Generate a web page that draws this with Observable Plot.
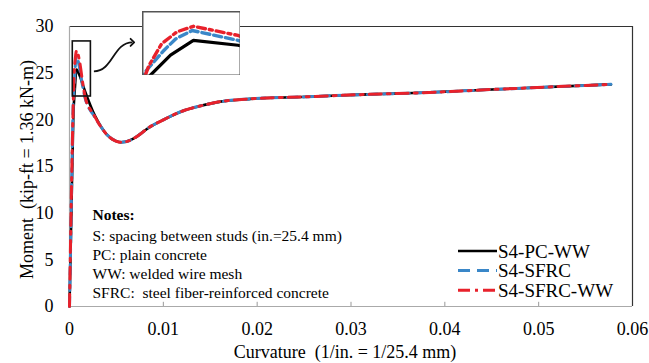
<!DOCTYPE html>
<html>
<head>
<meta charset="utf-8">
<script src="https://cdn.jsdelivr.net/npm/d3@7"></script>
<script src="https://cdn.jsdelivr.net/npm/@observablehq/plot@0.6"></script>
<style>
  html, body { margin: 0; padding: 0; background: white; }
  #wrap { position: relative; width: 649px; height: 363px; }
  #wrap svg, #wrap svg text { font-family: "Liberation Serif", "Times New Roman", serif !important; }
  #inset { position: absolute; left: 142px; top: 11px; }
</style>
</head>
<body>
<div id="wrap"></div>
<script>
// ---- data ----
const seriesNames = ["S4-PC-WW", "S4-SFRC", "S4-SFRC-WW"];

const xPCWW = [0, 0.0002, 0.00041, 0.00057, 0.00075, 0.0011, 0.0015, 0.0019, 0.0025, 0.003, 0.004, 0.005, 0.0055, 0.006, 0.007, 0.0085, 0.01, 0.0122, 0.014, 0.0158, 0.0193, 0.0247, 0.031, 0.0375, 0.045, 0.0577];
const yPCWW = [0, 10, 20.4, 23.3, 25.4, 24.7, 23.5, 22.4, 20.9, 19.9, 18.4, 17.7, 17.6, 17.65, 18.1, 19.2, 20.0, 21.0, 21.5, 21.9, 22.25, 22.45, 22.7, 22.9, 23.25, 23.8];

const xSFRC = [0, 0.0002, 0.00037, 0.00052, 0.00061, 0.00074, 0.0011, 0.0014, 0.0017, 0.0021, 0.0025, 0.003, 0.004, 0.005, 0.0055, 0.006, 0.007, 0.0085, 0.01, 0.0122, 0.014, 0.0158, 0.0193, 0.0247, 0.031, 0.0375, 0.045, 0.0577];
const ySFRC = [0, 11, 20.9, 24.0, 25.6, 26.8, 25.4, 23.6, 22.2, 21.2, 20.6, 19.8, 18.4, 17.7, 17.6, 17.65, 18.1, 19.2, 20.0, 21.0, 21.5, 21.9, 22.25, 22.45, 22.7, 22.9, 23.25, 23.8];

const xSFRCWW = [0, 0.0002, 0.0004, 0.0005, 0.00062, 0.00075, 0.0011, 0.0014, 0.0017, 0.0021, 0.0025, 0.003, 0.004, 0.005, 0.0055, 0.006, 0.007, 0.0085, 0.01, 0.0122, 0.014, 0.0158, 0.0193, 0.0247, 0.031, 0.0375, 0.045, 0.0577];
const ySFRCWW = [0, 12, 21.8, 24.9, 26.6, 27.4, 26.1, 24.0, 22.3, 21.3, 20.7, 19.8, 18.4, 17.7, 17.6, 17.65, 18.1, 19.2, 20.0, 21.0, 21.5, 21.9, 22.25, 22.45, 22.7, 22.9, 23.25, 23.8];

const xTicks = [0, 0.01, 0.02, 0.03, 0.04, 0.05, 0.06];
const xTickLabels = ["0", "0.01", "0.02", "0.03", "0.04", "0.05", "0.06"];
const yTicks = [0, 5, 10, 15, 20, 25, 30];
const yTickLabels = ["0", "5", "10", "15", "20", "25", "30"];
const xMinorTicks = [0.01, 0.02, 0.03, 0.04, 0.05];

const xLabel = "Curvature  (1/in. = 1/25.4 mm)";
const yLabel = "Moment  (kip-ft = 1.36 kN-m)";
const notesTitle = "Notes:";
const notesLines = [
  "S: spacing between studs (in.=25.4 mm)",
  "PC: plain concrete",
  "WW: welded wire mesh",
  "SFRC:  steel fiber-reinforced concrete"
];
// zoom window on the peak (data units) and the pointer from it to the inset
const zoomBox = [{x1: 0.00035, x2: 0.00228, y1: 22.5, y2: 28.4}];
const zoomArrow = [{x1: 0.0026, y1: 25.2, x2: 0.0067, y2: 28.3}];
const insetX = [0.00035, 0.00112];
const insetY = [20.4, 29.5];

// ---- build table ----
const rows = (xs, ys, name) => xs.map((x, i) => ({x, y: ys[i], s: name}));
const dPC = rows(xPCWW, yPCWW, seriesNames[0]);
const dSF = rows(xSFRC, ySFRC, seriesNames[1]);
const dSW = rows(xSFRCWW, ySFRCWW, seriesNames[2]);

const colors = {black: "#000000", blue: "#3a87c8", red: "#e8212b"};
const FONT = "Liberation Serif";

const main = Plot.plot({
  width: 649, height: 363,
  marginLeft: 69, marginRight: 17, marginTop: 26, marginBottom: 57,
  style: {fontFamily: FONT, fontSize: "18px", background: "white", color: "black"},
  x: {domain: [0, 0.06], ticks: xTicks, tickFormat: (d, i) => xTickLabels[i], tickSize: 0, tickPadding: 16, label: null},
  y: {domain: [0, 30], ticks: yTicks, tickFormat: (d, i) => yTickLabels[i], tickSize: 0, tickPadding: 16, label: null},
  marks: [
    Plot.ruleY([30], {stroke: "#333", strokeWidth: 1.2}),
    Plot.ruleX([0.06], {stroke: "#333", strokeWidth: 1.2}),
    Plot.ruleY([0], {stroke: "#aaa", strokeWidth: 1.2}),
    Plot.ruleX([0], {stroke: "#aaa", strokeWidth: 1.2}),
    Plot.ruleX(xMinorTicks, {y1: 0, y2: 0.45, stroke: "#999", strokeWidth: 1}),
    Plot.line(dPC, {x: "x", y: "y", stroke: colors.black, strokeWidth: 2.6, curve: "monotone-x"}),
    Plot.line(dSF, {x: "x", y: "y", stroke: colors.blue, strokeWidth: 3, strokeDasharray: "10,6", curve: "monotone-x"}),
    Plot.line(dSW, {x: "x", y: "y", stroke: colors.red, strokeWidth: 3, strokeDasharray: "12,6,3,6", curve: "monotone-x"}),
    Plot.rect(zoomBox, {x1: "x1", x2: "x2", y1: "y1", y2: "y2", fill: "none", stroke: "#111", strokeWidth: 1.6}),
    Plot.link(zoomArrow, {x1: "x1", y1: "y1", x2: "x2", y2: "y2", curve: "bump-x", stroke: "#111", strokeWidth: 1.8, markerEnd: "arrow"}),
    Plot.text([yLabel], {frameAnchor: "left", rotate: -90, dx: -42, dy: 3, fontSize: 18, fontFamily: FONT, textAnchor: "middle", lineAnchor: "middle", fill: "black"}),
    Plot.text([xLabel], {frameAnchor: "bottom", dx: -6, dy: 46, fontSize: 18, fontFamily: FONT, textAnchor: "middle", lineAnchor: "middle", fill: "black"}),
    Plot.text([notesTitle], {frameAnchor: "bottom-left", dx: 23, dy: -91, fontSize: 15.5, fontFamily: FONT, fontWeight: "bold", textAnchor: "start", lineAnchor: "middle", fill: "black"}),
    Plot.text([notesLines.join("\n")], {frameAnchor: "bottom-left", dx: 23, dy: -43, fontSize: 15.5, fontFamily: FONT, lineHeight: 1.21, textAnchor: "start", lineAnchor: "middle", fill: "black"})
  ]
});
document.getElementById("wrap").appendChild(main);

// legend (inside the plot area, lower right)
const svg = d3.select(main);
const leg = svg.append("g").attr("font-family", FONT).attr("font-size", 19).attr("text-anchor", "start");
const legendItems = [
  {name: seriesNames[0], stroke: colors.black, dash: null, w: 2.6},
  {name: seriesNames[1], stroke: colors.blue, dash: "12,7", w: 3},
  {name: seriesNames[2], stroke: colors.red, dash: "12,5,3,5", w: 3}
];
legendItems.forEach((it, i) => {
  const y = 251 + i * 19.6;
  const l = leg.append("line").attr("x1", 458).attr("x2", 497).attr("y1", y).attr("y2", y)
    .attr("stroke", it.stroke).attr("stroke-width", it.w);
  if (it.dash) l.attr("stroke-dasharray", it.dash);
  leg.append("text").attr("x", 498).attr("y", y).attr("dy", "0.35em").attr("text-anchor", "start")
    .attr("fill", "black").text(it.name);
});

// inset: magnified peak region
const inset = Plot.plot({
  width: 98, height: 64,
  marginLeft: 0, marginRight: 0, marginTop: 0, marginBottom: 0,
  style: {background: "white"},
  x: {domain: insetX, axis: null},
  y: {domain: insetY, axis: null},
  marks: [
    Plot.line(dPC, {x: "x", y: "y", stroke: colors.black, strokeWidth: 3.2, clip: true}),
    Plot.line(dSF, {x: "x", y: "y", stroke: colors.blue, strokeWidth: 3.4, strokeDasharray: "8,4", clip: true}),
    Plot.line(dSW, {x: "x", y: "y", stroke: colors.red, strokeWidth: 3.4, strokeDasharray: "8,4,3,4", clip: true}),
    Plot.frame({stroke: "#555", strokeWidth: 2})
  ]
});
inset.id = "inset";
document.getElementById("wrap").appendChild(inset);
</script>
</body>
</html>
